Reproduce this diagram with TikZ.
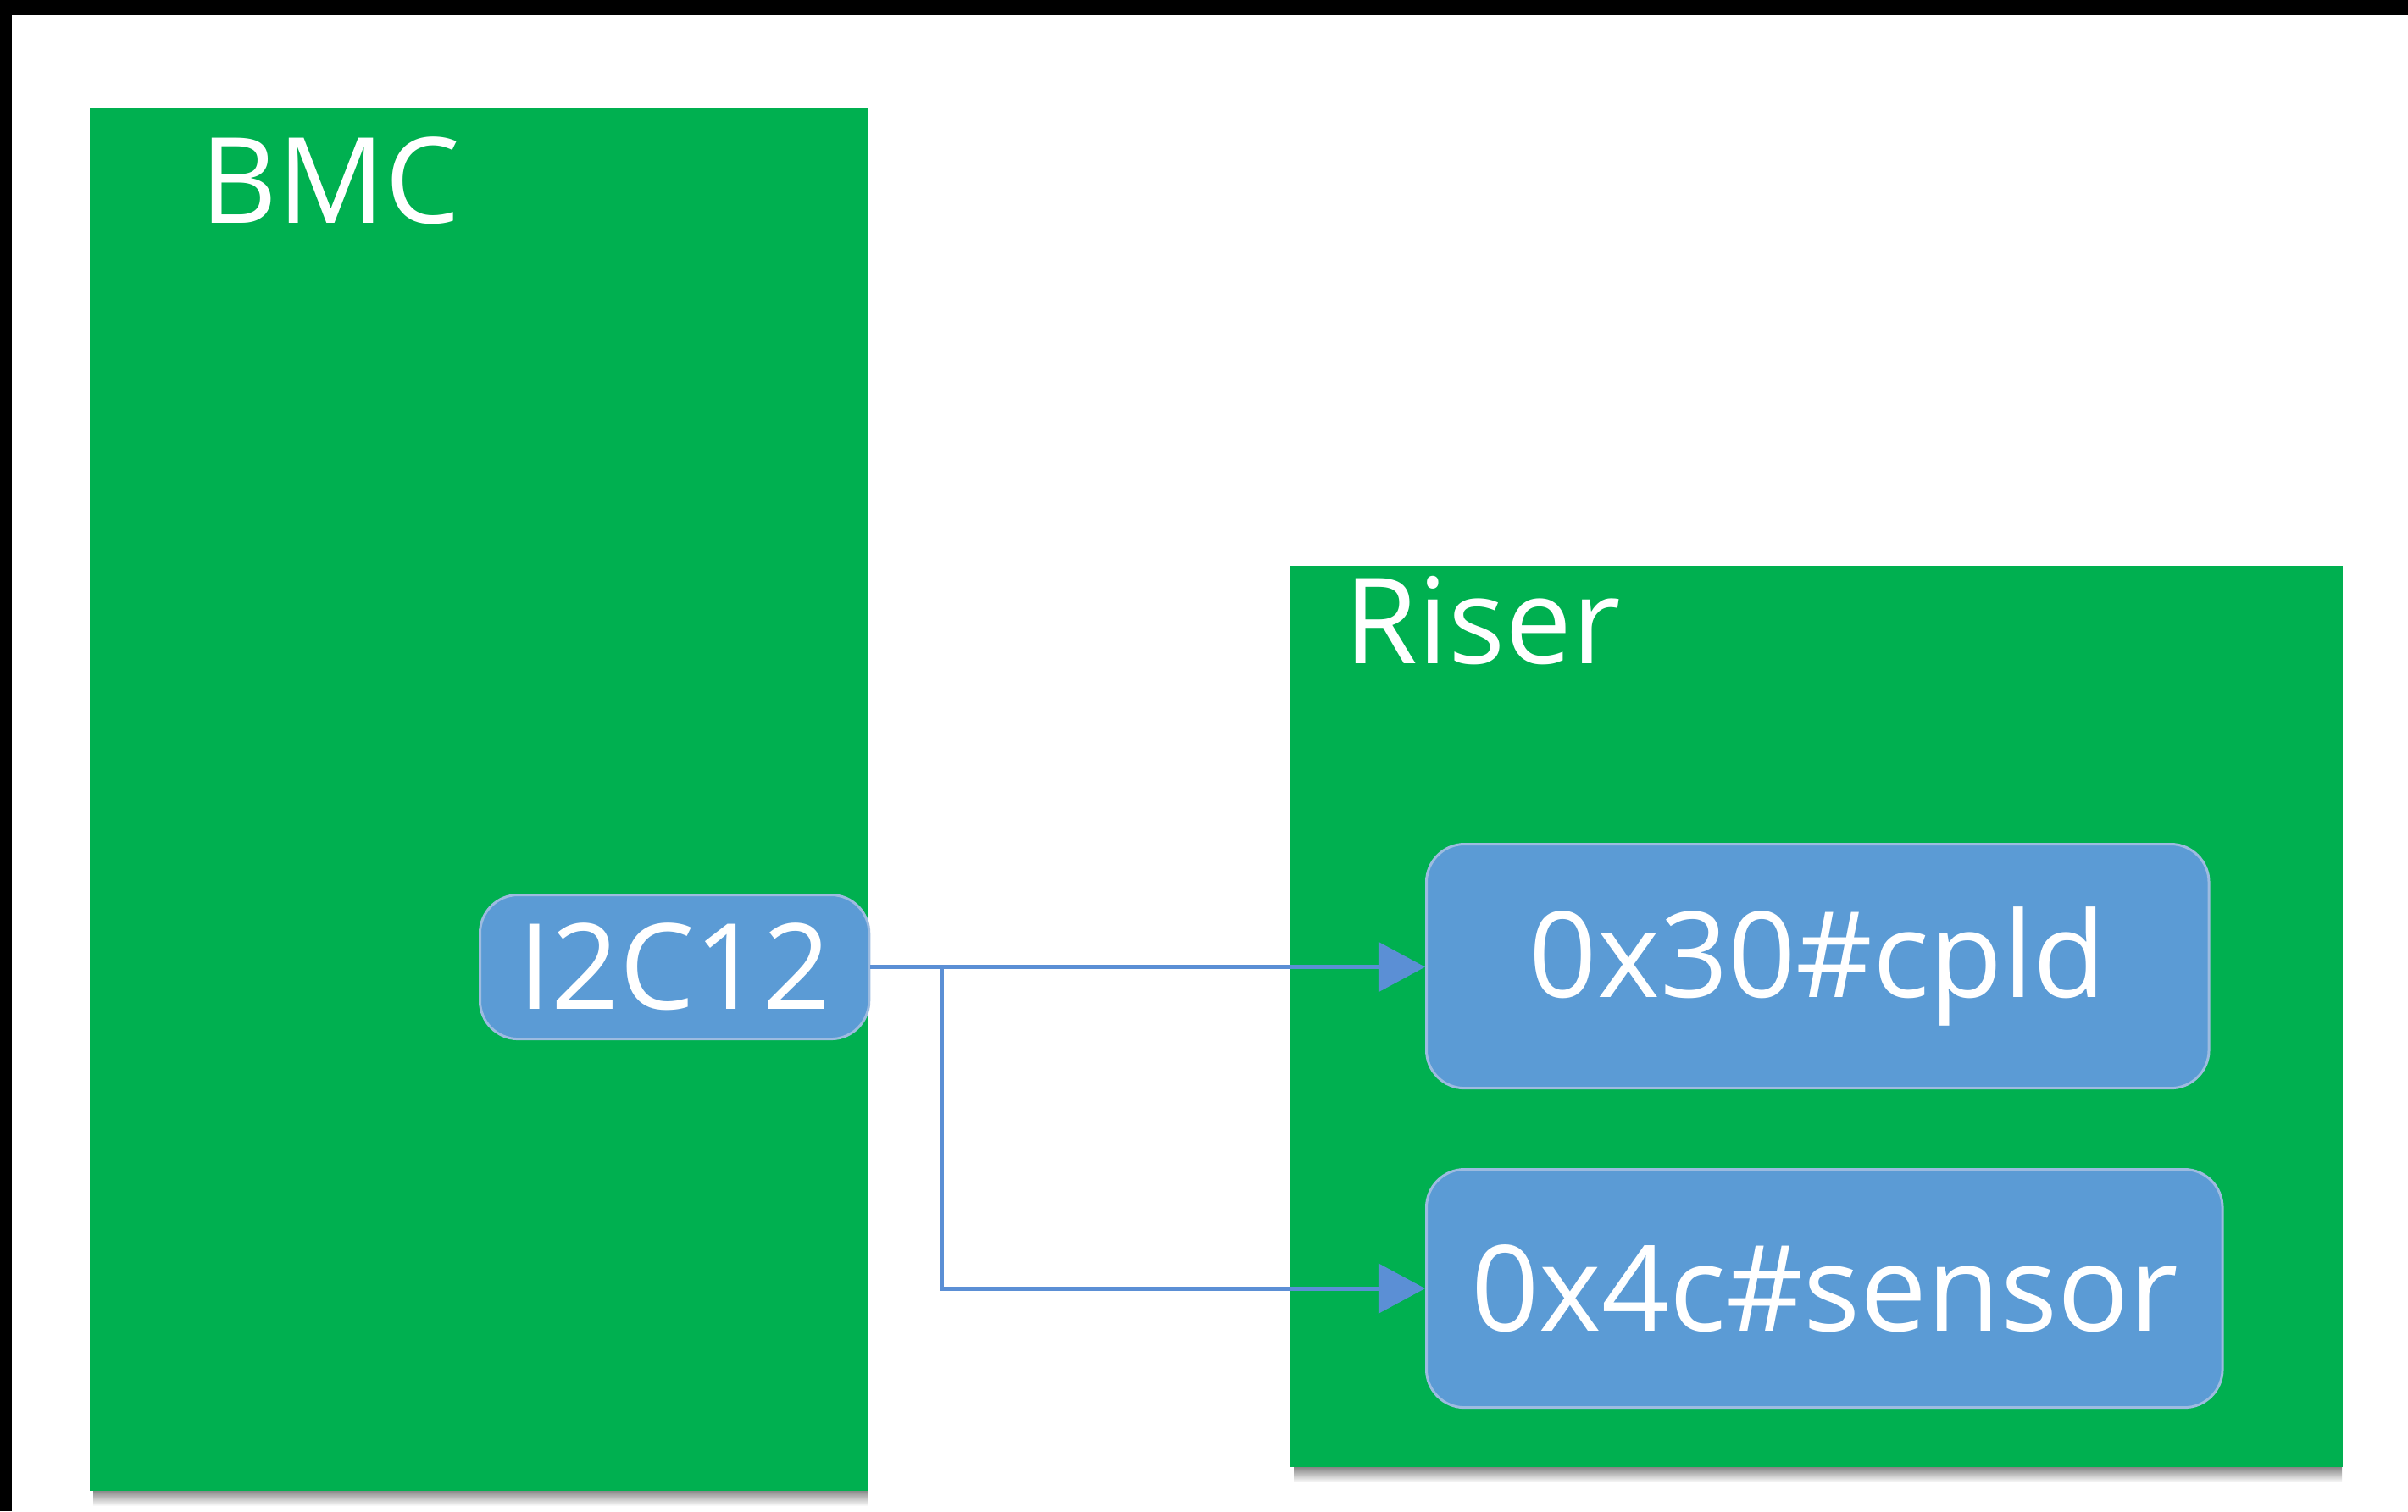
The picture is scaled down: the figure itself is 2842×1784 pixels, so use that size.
\documentclass[tikz,border=0pt]{standalone}
\usepackage{fontspec}
\setmainfont{Open Sans}
\usetikzlibrary{arrows.meta}
\definecolor{gr}{HTML}{00B050}
\definecolor{bl}{HTML}{5B9BD5}
\definecolor{bledge}{HTML}{9DBBE0}
\definecolor{ln}{HTML}{5B8FD5}
\definecolor{shade}{HTML}{EEF3FA}
\tikzset{
  greenbox/.style={fill=gr, draw=none, anchor=north west, inner sep=0pt},
  bluebox/.style={fill=bl, draw=bledge, line width=0.03cm, rounded corners=0.45cm, anchor=north west, inner sep=0pt, text=white, font=\fontsize{40}{48}\selectfont},
  title/.style={text=white, anchor=base west, inner sep=0pt, font=\fontsize{40}{48}\selectfont},
  conn/.style={draw=ln, line width=0.05cm, -{Triangle[length=0.55cm, width=0.58cm]}}
}
\begin{document}
\begin{tikzpicture}[x=0.01cm,y=-0.01cm]
\useasboundingbox (0,0) rectangle (2842,1784);
\fill[white] (0,0) rectangle (2842,1784);
\fill[black] (0,0) rectangle (2842,18);
\fill[black] (0,0) rectangle (14,1784);
% faint shadows under the containers
\fill[shade] (110,1758) rectangle (1024,1778);
\fill[shade] (1527,1731) rectangle (2764,1750);
% containers
\node[greenbox, minimum width=9.19cm, minimum height=16.31cm] (bmc) at (105,127) {};
\node[greenbox, minimum width=12.42cm, minimum height=10.64cm] (riser) at (1522,667) {};
\node[title] (bmclabel) at (236,263) {BMC};
\node[title] (riserlabel) at (1586,783) {Riser};
% blue nodes
\node[bluebox, minimum width=4.59cm, minimum height=1.70cm] (i2c) at (565,1055) {I2C12};
\node[bluebox, minimum width=9.23cm, minimum height=2.88cm] (cpld) at (1682,995) {0x30\#cpld};
\node[bluebox, minimum width=9.39cm, minimum height=2.81cm] (sensor) at (1682,1379) {0x4c\#sensor};
% connectors
\coordinate (br) at (i2c.east -| 1111,0);
\draw[conn] (i2c.east) -- (i2c.east -| cpld.west);
\draw[conn] (br) |- (sensor.west);
\end{tikzpicture}
\end{document}
